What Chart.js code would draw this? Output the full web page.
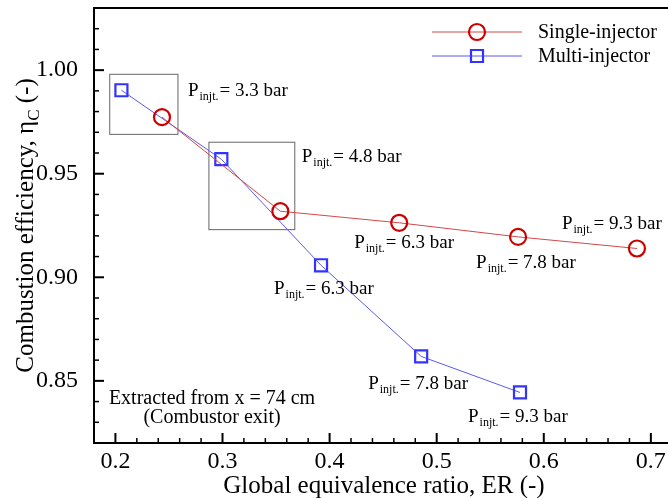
<!DOCTYPE html>
<html>
<head>
<meta charset="utf-8">
<script src="https://cdn.jsdelivr.net/npm/chart.js@4.4.0/dist/chart.umd.min.js"></script>
<style>
  body { margin: 0; background: #fff; }
  #wrap { width: 668px; height: 498px; }
</style>
</head>
<body>
<div id="wrap"><canvas id="effChart"></canvas></div>
<script>
// values
const erSingle  = [0.2435, 0.354, 0.465, 0.576, 0.687];
const etaSingle = [0.9773, 0.9319, 0.9263, 0.9195, 0.9139];
const erMulti   = [0.2056, 0.2989, 0.392, 0.4855, 0.5778];
const etaMulti  = [0.9903, 0.957, 0.9058, 0.8618, 0.8444];
const injPressures = ['3.3', '4.8', '6.3', '7.8', '9.3'];
const xTicks = [0.2, 0.3, 0.4, 0.5, 0.6, 0.7];
const yTicks = [0.85, 0.90, 0.95, 1.00];
// boxes around the first two pressures (both injectors)
const boxEr  = [[0.1947, 0.2584], [0.2873, 0.3675]];
const boxEta = [[0.969, 0.998], [0.923, 0.9652]];

const serif = "'Liberation Serif', 'Times New Roman', serif";
Chart.defaults.font.family = serif;
Chart.defaults.color = '#000';

function drawPLabel(ctx, x, y, p) {
    ctx.font = '19px ' + serif;
    ctx.fillText('P', x, y);
    let cx = x + ctx.measureText('P').width + 1;
    ctx.font = '12px ' + serif;
    ctx.fillText('injt.', cx, y + 4);
    cx += ctx.measureText('injt.').width + 1;
    ctx.font = '19px ' + serif;
    ctx.fillText('= ' + p + ' bar', cx, y);
}

// no extra padding from tick labels, the plot fills the frame
function noPad(s) {
    s.paddingTop = 0;
    s.paddingBottom = 0;
    s.paddingLeft = 0;
    s.paddingRight = 0;
}

const boxPlugin = {
    id: 'boxes',
    beforeDatasetsDraw(chart) {
        const ctx = chart.ctx, xs = chart.scales.x, ys = chart.scales.y;
        ctx.save();
        ctx.strokeStyle = '#666';
        ctx.lineWidth = 1;
        boxEr.forEach((b, i) => {
            const x1 = xs.getPixelForValue(b[0]), x2 = xs.getPixelForValue(b[1]);
            const y1 = ys.getPixelForValue(boxEta[i][1]), y2 = ys.getPixelForValue(boxEta[i][0]);
            ctx.strokeRect(x1, y1, x2 - x1, y2 - y1);
        });
        ctx.restore();
    }
};

const framePlugin = {
    id: 'frame',
    afterDraw(chart) {
        const ctx = chart.ctx, a = chart.chartArea;
        const xs = chart.scales.x, ys = chart.scales.y;
        ctx.save();
        ctx.strokeStyle = '#000';

        // top frame line
        ctx.lineWidth = 2;
        ctx.beginPath();
        ctx.moveTo(a.left, a.top);
        ctx.lineTo(a.right, a.top);
        ctx.stroke();

        // inward ticks, majors and minors
        for (let k = 82; k <= 103; k++) {
            const py = ys.getPixelForValue(k / 100);
            const major = k % 5 === 0;
            ctx.lineWidth = major ? 2 : 1.5;
            ctx.beginPath();
            ctx.moveTo(a.left, py);
            ctx.lineTo(a.left + (major ? 10 : 5), py);
            ctx.stroke();
        }
        for (let k = 10; k <= 35; k++) {
            const px = xs.getPixelForValue(k * 0.02);
            const major = k % 5 === 0;
            ctx.lineWidth = major ? 2 : 1.5;
            ctx.beginPath();
            ctx.moveTo(px, a.bottom);
            ctx.lineTo(px, a.bottom - (major ? 10 : 5));
            ctx.stroke();
        }

        ctx.fillStyle = '#000';
        ctx.textBaseline = 'alphabetic';

        // pressure labels
        ctx.textAlign = 'left';
        boxEr.forEach((b, i) => {
            const off = [[10, 22], [7, 20]][i];
            drawPLabel(ctx, xs.getPixelForValue(b[1]) + off[0],
                ys.getPixelForValue(boxEta[i][1]) + off[1], injPressures[i]);
        });
        const offSingle = [null, null, [-45, 25], [-42, 31], [-75, -19]];
        const offMulti  = [null, null, [-47, 29], [-53, 33], [-52, 30]];
        for (let i = 2; i < injPressures.length; i++) {
            drawPLabel(ctx, xs.getPixelForValue(erSingle[i]) + offSingle[i][0],
                ys.getPixelForValue(etaSingle[i]) + offSingle[i][1], injPressures[i]);
            drawPLabel(ctx, xs.getPixelForValue(erMulti[i]) + offMulti[i][0],
                ys.getPixelForValue(etaMulti[i]) + offMulti[i][1], injPressures[i]);
        }

        // note in lower left
        ctx.textAlign = 'center';
        ctx.font = '20px ' + serif;
        ctx.fillText('Extracted from x = 74 cm', a.left + 118, a.bottom - 39);
        ctx.fillText('(Combustor exit)', a.left + 118, a.bottom - 20);

        // x axis title
        ctx.font = '25px ' + serif;
        ctx.fillText('Global equivalence ratio, ER (-)', (a.left + a.right) / 2 + 3, 493);

        // y axis title with subscript
        ctx.save();
        ctx.translate(33, (a.top + a.bottom) / 2);
        ctx.rotate(-Math.PI / 2);
        ctx.textAlign = 'left';
        const main = 'Combustion efficiency, \u03b7', tail = ' (-)';
        ctx.font = '25px ' + serif;
        const w1 = ctx.measureText(main).width, w3 = ctx.measureText(tail).width;
        ctx.font = '17px ' + serif;
        const w2 = ctx.measureText('C').width;
        let sx = -(w1 + w2 + w3) / 2;
        ctx.font = '25px ' + serif;
        ctx.fillText(main, sx, 0);
        ctx.font = '17px ' + serif;
        ctx.fillText('C', sx + w1, 6);
        ctx.font = '25px ' + serif;
        ctx.fillText(tail, sx + w1 + w2, 0);
        ctx.restore();

        // legend inside the plot, top right
        chart.data.datasets.forEach((ds, i) => {
            const ly = a.top + 24 + i * 24;
            const lx1 = a.right - 236, lx2 = a.right - 146, mx = (lx1 + lx2) / 2;
            ctx.strokeStyle = ds.borderColor;
            ctx.lineWidth = 1;
            ctx.beginPath();
            ctx.moveTo(lx1, ly);
            ctx.lineTo(lx2, ly);
            ctx.stroke();
            ctx.strokeStyle = ds.pointBorderColor;
            ctx.lineWidth = ds.pointBorderWidth;
            ctx.beginPath();
            if (ds.pointStyle === 'circle') {
                ctx.arc(mx, ly, ds.pointRadius, 0, Math.PI * 2);
            } else {
                const h = ds.pointRadius * Math.SQRT1_2;
                ctx.rect(mx - h, ly - h, 2 * h, 2 * h);
            }
            ctx.stroke();
            ctx.textAlign = 'left';
            ctx.font = '20px ' + serif;
            ctx.fillText(ds.label, a.right - 130, ly + 6);
        });

        ctx.restore();
    }
};

new Chart(document.getElementById('effChart'), {
    type: 'scatter',
    data: {
        datasets: [
            {
                label: 'Single-injector',
                data: erSingle.map((x, i) => ({ x: x, y: etaSingle[i] })),
                showLine: true,
                borderColor: '#d24848',
                borderWidth: 1,
                pointStyle: 'circle',
                pointRadius: 8,
                pointBorderColor: '#cc0000',
                pointBorderWidth: 2.2,
                pointBackgroundColor: 'rgba(0,0,0,0)'
            },
            {
                label: 'Multi-injector',
                data: erMulti.map((x, i) => ({ x: x, y: etaMulti[i] })),
                showLine: true,
                borderColor: '#5a5aee',
                borderWidth: 1,
                pointStyle: 'rect',
                pointRadius: 8.5,
                pointBorderColor: '#3333ff',
                pointBorderWidth: 2.2,
                pointBackgroundColor: 'rgba(0,0,0,0)'
            }
        ]
    },
    options: {
        responsive: true,
        maintainAspectRatio: false,
        animation: false,
        layout: { autoPadding: false, padding: { left: 0, top: 8, right: 0, bottom: 0 } },
        plugins: {
            legend: { display: false },
            tooltip: { enabled: false }
        },
        scales: {
            x: {
                type: 'linear',
                min: 0.18,
                max: 0.716,
                grid: { display: false },
                border: { display: true, color: '#000', width: 2 },
                afterBuildTicks: s => { s.ticks = xTicks.map(v => ({ value: v })); },
                afterFit: s => { s.height = 55; noPad(s); },
                ticks: {
                    font: { size: 24 },
                    padding: -4,
                    maxRotation: 0,
                    callback: v => v.toFixed(1)
                }
            },
            y: {
                type: 'linear',
                min: 0.82,
                max: 1.03,
                grid: { display: false },
                border: { display: true, color: '#000', width: 2 },
                afterBuildTicks: s => { s.ticks = yTicks.map(v => ({ value: v })); },
                afterFit: s => { s.width = 94; noPad(s); },
                ticks: {
                    font: { size: 24 },
                    padding: 8,
                    callback: v => v.toFixed(2)
                }
            }
        }
    },
    plugins: [boxPlugin, framePlugin]
});
</script>
</body>
</html>
